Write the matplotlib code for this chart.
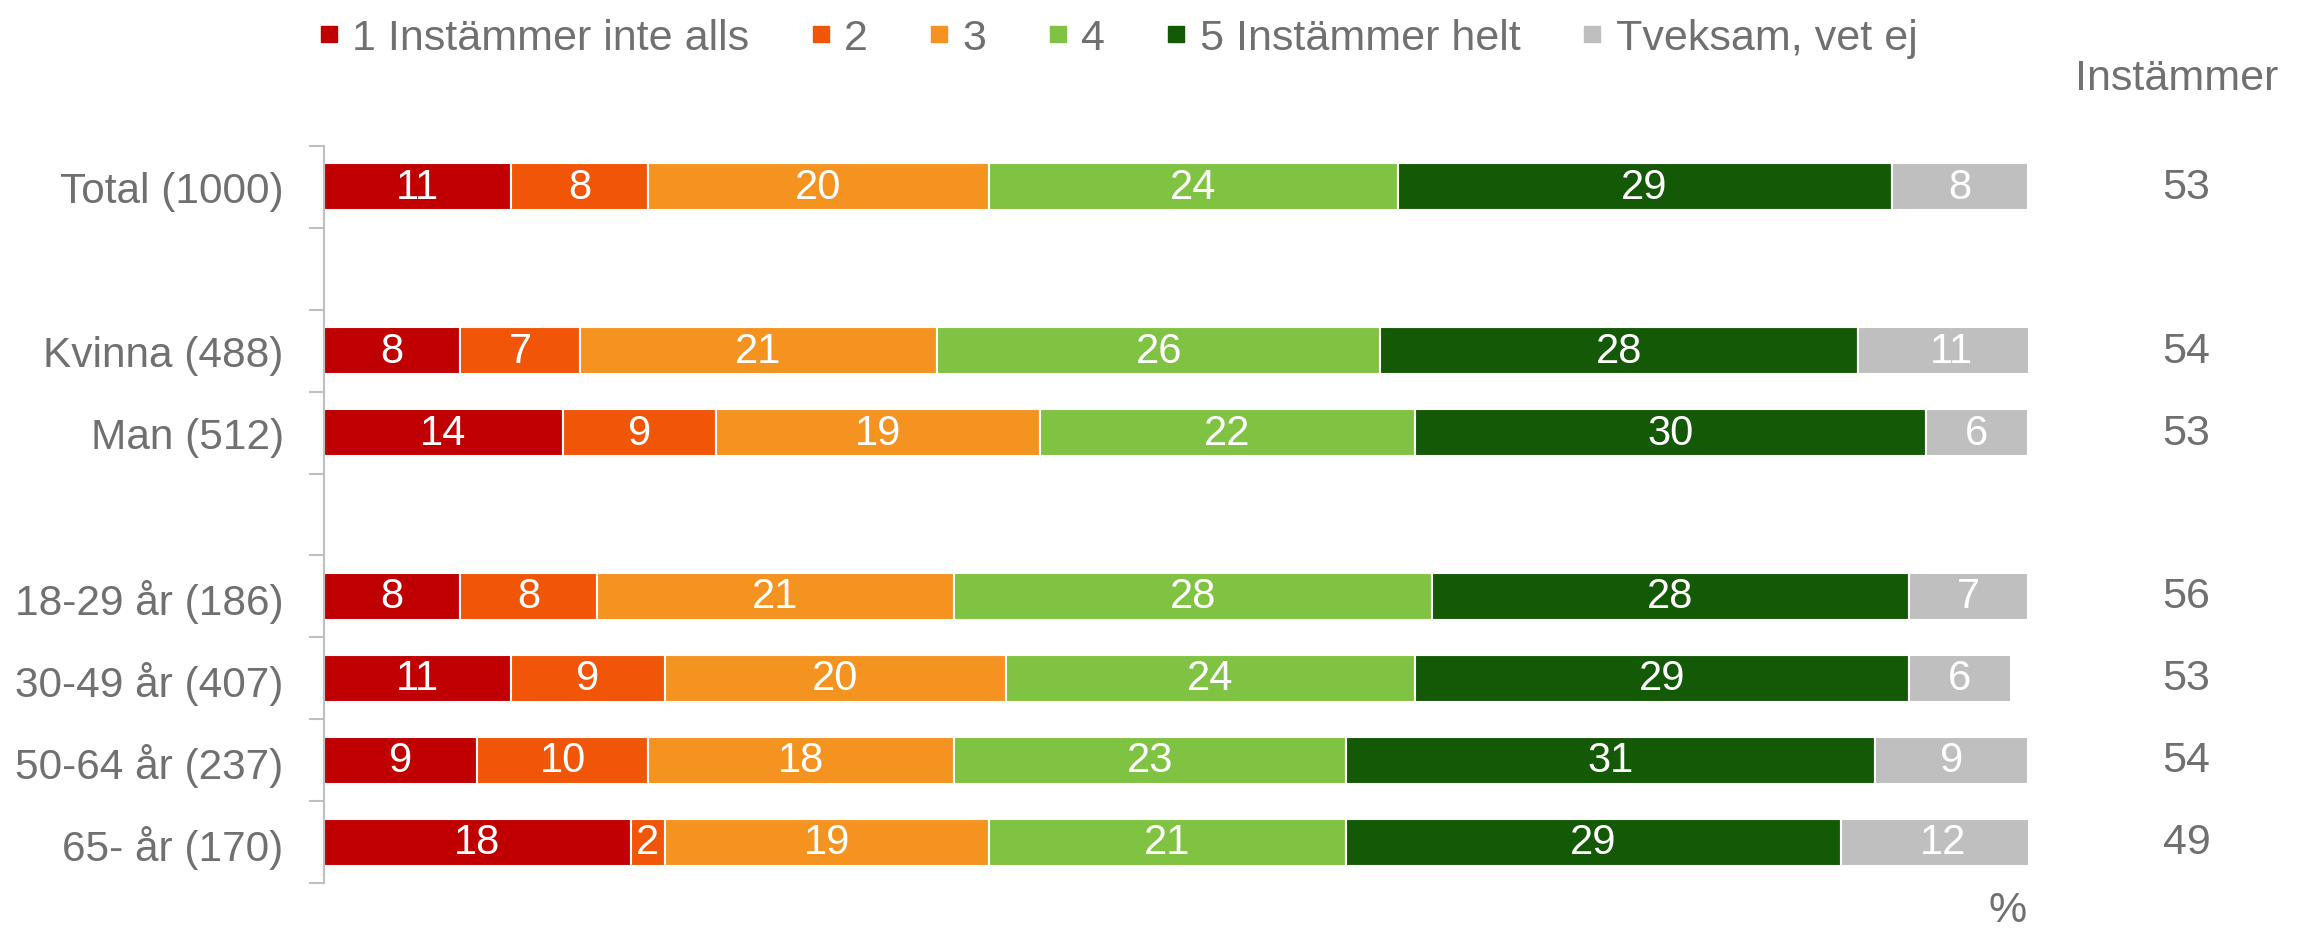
import matplotlib
matplotlib.use('Agg')
import matplotlib.pyplot as plt
from matplotlib.lines import Line2D
import numpy as np

plt.rcParams['font.family'] = ['Liberation Sans', 'DejaVu Sans']

# data
groups = ['Total (1000)', 'Kvinna (488)', 'Man (512)', '18-29 år (186)',
          '30-49 år (407)', '50-64 år (237)', '65- år (170)']
slots = [0, 2, 3, 5, 6, 7, 8]  # empty rows between blocks
series = ['1 Instämmer inte alls', '2', '3', '4', '5 Instämmer helt', 'Tveksam, vet ej']
colors = ['#C00000', '#F05508', '#F59321', '#80C342', '#145A06', '#BFBFBF']
v1 = [11, 8, 14, 8, 11, 9, 18]
v2 = [8, 7, 9, 8, 9, 10, 2]
v3 = [20, 21, 19, 21, 20, 18, 19]
v4 = [24, 26, 22, 28, 24, 23, 21]
v5 = [29, 28, 30, 28, 29, 31, 29]
v6 = [8, 11, 6, 7, 6, 9, 12]
instammer = [53, 54, 53, 56, 53, 54, 49]

gray = '#707070'

fig = plt.figure(figsize=(23.05, 9.29), dpi=100)
ax = fig.add_axes([324 / 2305, 45 / 929, 1704 / 2305, 737 / 929])

left = np.zeros(len(groups))
for vals, name, col in zip([v1, v2, v3, v4, v5, v6], series, colors):
    vals = np.array(vals, dtype=float)
    ax.barh(slots, vals, left=left, height=0.575, color=col,
            edgecolor='white', linewidth=1.5, label=name)
    for y, l, w in zip(slots, left, vals):
        ax.text(l + w / 2, y, f'{int(w)}', ha='center', va='center',
                color='white', fontsize=30)
    left += vals

ax.set_xlim(0, 100)
ax.set_ylim(8.5, -0.5)
ax.set_yticks(slots)
ax.set_yticklabels(groups, fontsize=30.5, color=gray)
ax.tick_params(axis='y', which='major', length=0, pad=29)
ax.set_yticks(np.arange(-0.5, 9, 1), minor=True)
ax.tick_params(axis='y', which='minor', length=11, width=1.5, color='#BFBFBF')
ax.set_xticks([])
for s in ['top', 'right', 'bottom']:
    ax.spines[s].set_visible(False)
ax.spines['left'].set_color('#BFBFBF')
ax.spines['left'].set_linewidth(1.5)

# right column
ax.text(1.087, 1.092, 'Instämmer', transform=ax.transAxes, ha='center',
        va='center', fontsize=31, color=gray)
for y, v in zip(slots, instammer):
    ax.text(109.3, y, str(v), ha='center', va='center', fontsize=31, color=gray)

ax.text(0.988, -0.037, '%', transform=ax.transAxes, ha='center', va='center',
        fontsize=31, color=gray)

handles = [Line2D([], [], marker='s', linestyle='none', markersize=12,
                  markerfacecolor=c, markeredgecolor=c) for c in colors]
leg = fig.legend(handles, series, loc='center left', bbox_to_anchor=(318 / 2305, 0.958),
                 ncol=6, frameon=False, fontsize=31, handlelength=0.5,
                 handletextpad=0.3, columnspacing=1.4, borderpad=0, borderaxespad=0)
for t in leg.get_texts():
    t.set_color(gray)

fig.savefig('out.png', dpi=100)
